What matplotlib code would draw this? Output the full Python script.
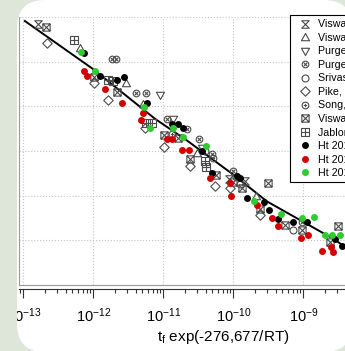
import numpy as np
import matplotlib
matplotlib.use("Agg")
import matplotlib.pyplot as plt
from matplotlib.path import Path
from matplotlib.patches import FancyBboxPatch, Rectangle
from matplotlib.transforms import IdentityTransform
from matplotlib.ticker import LogLocator, MultipleLocator, NullFormatter

plt.rcParams['font.family'] = ['Liberation Sans', 'DejaVu Sans']
plt.rcParams['mathtext.fontset'] = 'custom'
plt.rcParams['mathtext.rm'] = 'Liberation Sans'
plt.rcParams['mathtext.it'] = 'Liberation Sans:italic'

# x values are log10 of t_f exp(-276,677/RT); y is the (unlabelled) stress axis
labels = ["Viswanathan 2002", "Viswanathan 2007", "Purgert 2009", "Purgert 2010",
          "Srivastava 2008", "Pike, 2008", "Song, 2012", "Viswanathan 2005",
          "Jablonski 2012", "Ht 2013 A", "Ht 2013 B", "Ht 2013 C"]

hg_x = [-12.79, -10.06, -9.84]
hg_y = [5.84, 2.37, 2.32]
tu_x = [-12.19, -11.54, -11.29, -10.52, -9.68]
tu_y = [5.30, 4.53, 4.06, 2.96, 1.99]
td_x = [-11.05, -10.86, -10.45]
td_y = [4.26, 3.72, 3.07]
cx_x = [-11.74, -11.68, -11.39, -11.25, -10.95, -10.66, -10.49, -10.31, -10.01, -9.02]
cx_y = [5.05, 5.05, 4.29, 4.29, 3.72, 3.50, 3.27, 2.93, 2.55, 1.42]
oc_x = [-10.41, -9.91, -9.15]
oc_y = [3.00, 2.26, 1.24]
dm_x = [-12.66, -11.99, -11.79, -11.26, -10.99, -10.62, -10.26, -10.05, -9.62]
dm_y = [5.41, 4.53, 4.15, 3.52, 3.09, 2.66, 2.21, 2.17, 1.56]
cp_x = [-10.88, -10.29, -9.96]
cp_y = [3.38, 2.84, 2.41]
sx_x = [-12.68, -11.99, -11.66, -10.99, -10.79, -10.62, -10.25, -10.01, -9.88,
        -9.51, -9.62, -9.26, -9.02, -8.51, -8.62]
sx_y = [5.77, 4.65, 4.33, 3.36, 3.29, 2.82, 2.46, 2.30, 2.17,
        2.28, 1.71, 1.35, 1.24, 1.33, 0.97]
sp_x = [-12.28, -11.79, -11.72, -11.25, -11.16, -10.41, -10.39]
sp_y = [5.48, 4.58, 4.56, 3.63, 3.63, 2.77, 2.64]
k_x = [-12.14, -11.91, -11.66, -11.56, -11.24, -10.88, -10.79, -10.72, -10.45, -10.31,
       -9.95, -9.91, -9.81, -9.56, -9.49, -9.36, -9.15, -8.95, -8.55, -8.45]
k_y = [5.19, 4.67, 4.60, 4.65, 4.08, 3.61, 3.61, 3.52, 3.00, 2.50,
       2.44, 2.39, 1.94, 1.85, 1.69, 1.47, 1.42, 1.40, 1.04, 0.88]
r_x = [-12.14, -12.09, -11.84, -11.59, -11.29, -11.32, -10.95, -10.88, -10.74, -10.64,
       -10.34, -10.05, -10.04, -9.66, -9.45, -9.36, -9.04, -8.94, -8.74, -8.61, -8.58]
r_y = [4.78, 4.69, 4.38, 4.08, 3.86, 3.70, 3.27, 3.27, 3.02, 3.02,
       2.39, 2.28, 1.99, 1.80, 1.51, 1.31, 1.06, 1.13, 0.77, 0.86, 0.74]
g_x = [-12.18, -11.98, -11.28, -11.19, -10.86, -10.72, -10.39, -9.71, -9.32, -9.02,
       -8.85, -8.69, -8.59, -8.48]
g_y = [5.21, 4.80, 3.99, 3.52, 3.52, 3.32, 3.11, 1.87, 1.60, 1.51,
       1.53, 1.11, 1.13, 1.11]

fit_x = [-12.98, -12.02, -11.12, -10.66, -10.01, -9.52, -8.58, -8.41]
fit_y = [5.91, 4.85, 3.72, 3.23, 2.48, 1.87, 1.04, 0.86]

bg = '#dde6d8'
edge = '#4a4a4a'

# marker shapes
circle = Path.unit_circle()
square = Path([(-1, -1), (1, -1), (1, 1), (-1, 1), (-1, -1)], closed=True)
cross_x = Path([(-1, -1), (1, 1), (-1, 1), (1, -1)],
               [Path.MOVETO, Path.LINETO, Path.MOVETO, Path.LINETO])
cross_p = Path([(-1, 0), (1, 0), (0, -1), (0, 1)],
               [Path.MOVETO, Path.LINETO, Path.MOVETO, Path.LINETO])
small_x = Path(cross_x.vertices * 0.5, cross_x.codes)
small_p = Path(cross_p.vertices * 0.5, cross_p.codes)
hourglass = Path([(-1, 1), (1, 1), (-1, -1), (1, -1), (-1, 1)], closed=True)
tri_up = Path([(-1, -0.8), (1, -0.8), (0, 1), (-1, -0.8)], closed=True)
tri_dn = Path([(-1, 0.8), (1, 0.8), (0, -1), (-1, 0.8)], closed=True)
diamond = Path([(0, -1), (1, 0), (0, 1), (-1, 0), (0, -1)], closed=True)
m_cx = Path.make_compound_path(circle, small_x)
m_cp = Path.make_compound_path(circle, small_p)
m_sx = Path.make_compound_path(square, cross_x)
m_sp = Path.make_compound_path(square, cross_p)

fig = plt.figure(figsize=(3.45, 3.51), dpi=100, facecolor=bg)
panel = FancyBboxPatch((17, -1), 335, 352, boxstyle="round,pad=0,rounding_size=28",
                       transform=IdentityTransform(), facecolor='white',
                       edgecolor='none', zorder=-5)
fig.add_artist(panel)

ax = fig.add_axes([19 / 345, 1 - 285 / 351, 408 / 345, 268 / 351])
ax.set_facecolor('white')

ax.plot(10 ** np.array(fit_x), fit_y, color='black', lw=1.4, zorder=2)

open_kw = dict(ls='none', mfc='none', mec=edge, mew=0.8, zorder=3)
h = []
h += ax.plot(10 ** np.array(hg_x), hg_y, marker=hourglass, ms=5.4, label=labels[0], **open_kw)
h += ax.plot(10 ** np.array(tu_x), tu_y, marker=tri_up, ms=5.8, label=labels[1], **open_kw)
h += ax.plot(10 ** np.array(td_x), td_y, marker=tri_dn, ms=5.8, label=labels[2], **open_kw)
h += ax.plot(10 ** np.array(cx_x), cx_y, marker=m_cx, ms=4.8, label=labels[3], **open_kw)
h += ax.plot(10 ** np.array(oc_x), oc_y, marker=circle, ms=5.0, label=labels[4], **open_kw)
h += ax.plot(10 ** np.array(dm_x), dm_y, marker=diamond, ms=6.8, label=labels[5], **open_kw)
h += ax.plot(10 ** np.array(cp_x), cp_y, marker=m_cp, ms=4.8, label=labels[6], **open_kw)
h += ax.plot(10 ** np.array(sx_x), sx_y, marker=m_sx, ms=5.2, label=labels[7], **open_kw)
h += ax.plot(10 ** np.array(sp_x), sp_y, marker=m_sp, ms=5.2, label=labels[8], **open_kw)
dot_kw = dict(ls='none', marker='o', ms=5.0, mew=0, zorder=4)
h += ax.plot(10 ** np.array(k_x), k_y, color='black', label=labels[9], **dot_kw)
h += ax.plot(10 ** np.array(r_x), r_y, color='#d40000', label=labels[10], **dot_kw)
h += ax.plot(10 ** np.array(g_x), g_y, color='#2ecc2e', label=labels[11], **dot_kw)

ax.set_xscale('log')
ax.set_xlim(10 ** -13.064, 10 ** -7.235)
ax.set_ylim(0, 6)
ax.yaxis.set_major_locator(MultipleLocator(1))
ax.xaxis.set_major_locator(LogLocator(base=10, numticks=20))
ax.xaxis.set_minor_locator(LogLocator(base=10, subs=np.arange(2, 10), numticks=20))
ax.xaxis.set_minor_formatter(NullFormatter())
ax.grid(True, which='major', ls=':', color='#c4c4c4', lw=0.8)
ax.set_axisbelow(True)

for s in ['top', 'right']:
    ax.spines[s].set_visible(False)
ax.spines['left'].set_color('#9a9a9a')
ax.spines['left'].set_linewidth(0.8)
ax.spines['bottom'].set_position(('outward', 3))
ax.spines['bottom'].set_color('#333333')
ax.spines['bottom'].set_linewidth(0.8)
ax.axhline(0, color='#9a9a9a', lw=0.8, clip_on=False, zorder=1)

ax.tick_params(axis='y', left=False, labelleft=False)
ax.tick_params(axis='x', which='major', direction='out', length=6.5, width=0.8,
               color='#333333', labelsize=10.5, pad=6)
ax.tick_params(axis='x', which='minor', direction='out', length=3, width=0.8,
               color='#333333')
ax.set_xlabel(r't$_\mathregular{f}$ exp(-276,677/RT)', fontsize=11, labelpad=2)

leg = ax.legend(handles=h, loc='upper left', bbox_to_anchor=(290 / 345, 1 - 15 / 351),
                bbox_transform=fig.transFigure, fontsize=7.7, frameon=True,
                fancybox=False, edgecolor='black', framealpha=1, numpoints=1,
                labelspacing=0.33, handlelength=2.0, handletextpad=0.25,
                borderpad=0.4, borderaxespad=0)
leg.get_frame().set_linewidth(0.8)

strip = Rectangle((0, 0), 17, 351, transform=IdentityTransform(), facecolor=bg,
                  edgecolor='none', zorder=10)
fig.add_artist(strip)

fig.savefig('out.png', dpi=100, facecolor=bg)
